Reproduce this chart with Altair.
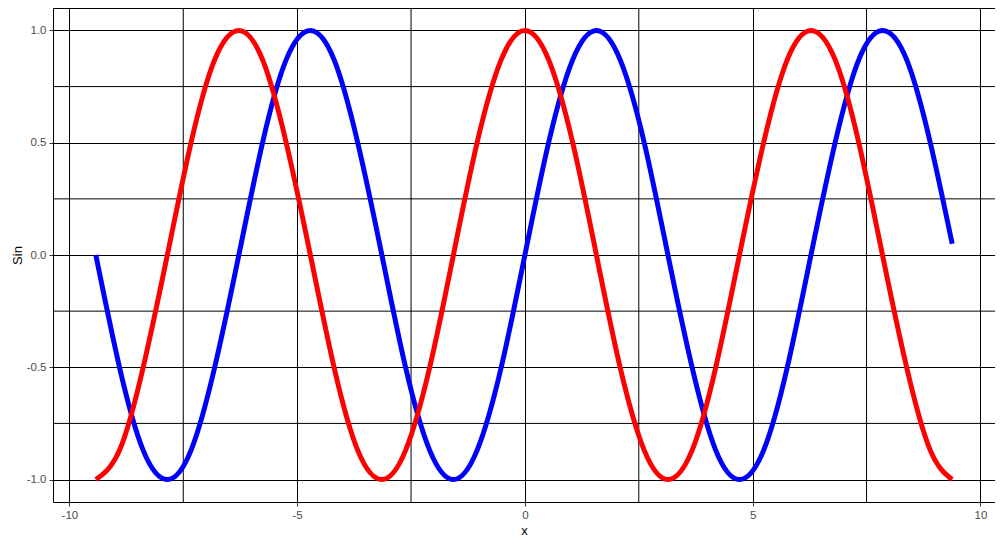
import altair as alt
import pandas as pd

x_vals = [-9.42, -8.90, -8.38, -7.85, -7.33, -6.81, -6.28, -5.76, -5.24, -4.71,
          -4.19, -3.67, -3.14, -2.62, -2.09, -1.57, -1.05, -0.52, 0.00, 0.52,
          1.05, 1.57, 2.09, 2.62, 3.14, 3.67, 4.19, 4.71, 5.24, 5.76,
          6.28, 6.81, 7.33, 7.85, 8.38, 8.90, 9.38]
sin_vals = [0.00, -0.50, -0.87, -1.00, -0.87, -0.50, 0.00, 0.50, 0.87, 1.00,
            0.87, 0.50, 0.00, -0.50, -0.87, -1.00, -0.87, -0.50, 0.00, 0.50,
            0.87, 1.00, 0.87, 0.50, 0.00, -0.50, -0.87, -1.00, -0.87, -0.50,
            0.00, 0.50, 0.87, 1.00, 0.87, 0.50, 0.05]
cos_vals = [-1.00, -0.87, -0.50, 0.00, 0.50, 0.87, 1.00, 0.87, 0.50, 0.00,
            -0.50, -0.87, -1.00, -0.87, -0.50, 0.00, 0.50, 0.87, 1.00, 0.87,
            0.50, 0.00, -0.50, -0.87, -1.00, -0.87, -0.50, 0.00, 0.50, 0.87,
            1.00, 0.87, 0.50, 0.00, -0.50, -0.87, -1.00]

x_major = [-10, -5, 0, 5, 10]
x_minor = [-7.5, -2.5, 2.5, 7.5]
y_major = [-1.0, -0.5, 0.0, 0.5, 1.0]
y_minor = [-0.75, -0.25, 0.25, 0.75]

df = pd.DataFrame({"x": x_vals, "sin": sin_vals, "cos": cos_vals})

xs = alt.Scale(domain=[-10.36, 10.32], nice=False, zero=False)
ys = alt.Scale(domain=[-1.1, 1.1], nice=False, zero=False)

x_axis = alt.Axis(values=x_major, title="x", grid=True,
                  labelExpr="datum.value < 0 ? '-' + format(-datum.value, 'd') : format(datum.value, 'd')")
y_axis = alt.Axis(values=y_major, title="Sin", grid=True, titlePadding=2,
                  labelExpr="datum.value < 0 ? '-' + format(-datum.value, '.1f') : format(datum.value, '.1f')")

minor_x = alt.Chart(pd.DataFrame({"v": x_minor})).mark_rule(
    color="black", strokeWidth=1).encode(x=alt.X("v:Q", scale=xs))
minor_y = alt.Chart(pd.DataFrame({"v": y_minor})).mark_rule(
    color="black", strokeWidth=1).encode(y=alt.Y("v:Q", scale=ys))

base = alt.Chart(df)
sin_line = base.mark_line(color="#0000FF", strokeWidth=5, interpolate="natural").encode(
    x=alt.X("x:Q", scale=xs, axis=x_axis),
    y=alt.Y("sin:Q", scale=ys, axis=y_axis),
)
cos_line = base.mark_line(color="#FF0000", strokeWidth=5, interpolate="natural").encode(
    x=alt.X("x:Q", scale=xs, axis=x_axis),
    y=alt.Y("cos:Q", scale=ys, axis=y_axis),
)

chart = alt.layer(minor_x, minor_y, sin_line, cos_line).properties(
    width=942, height=494,
    autosize=alt.AutoSizeParams(type="none"),
    padding={"left": 45, "top": 0, "right": 0, "bottom": 37},
).configure_view(
    stroke="black", strokeWidth=1
).configure_axis(
    domain=False,
    gridColor="black", gridWidth=1, gridOpacity=1,
    tickColor="#333333", tickSize=4, tickWidth=1,
    labelFont="Liberation Sans", labelFontSize=11.5, labelColor="#4D4D4D",
    labelPadding=3,
    titleFont="Liberation Sans", titleFontSize=13, titleFontWeight="normal",
    titleColor="black", titlePadding=4,
)

chart.save("out.html", embed_options={"renderer": "svg", "actions": False})
